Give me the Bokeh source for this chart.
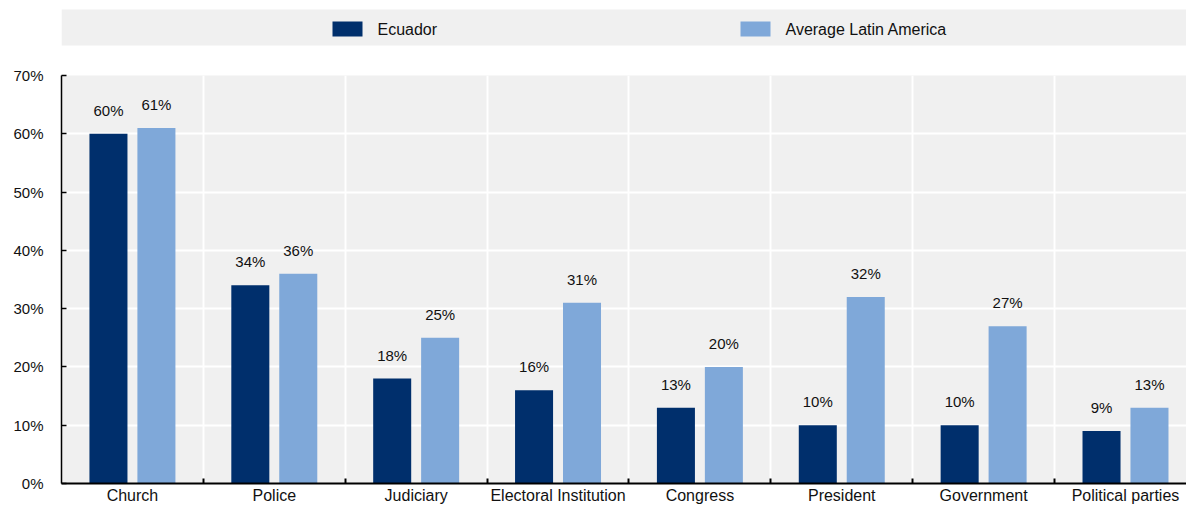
from bokeh.plotting import figure
from bokeh.layouts import column
from bokeh.models import Range1d, FixedTicker, PrintfTickFormatter, ColumnDataSource
from bokeh.core.properties import value
from bokeh.embed import file_html
from bokeh.resources import INLINE

# Trust in institutions (% of respondents)
categories = ["Church", "Police", "Judiciary", "Electoral Institution",
              "Congress", "President", "Government", "Political parties"]
ecuador = [60, 34, 18, 16, 13, 10, 10, 9]
latin_america = [61, 36, 25, 31, 20, 32, 27, 13]
y_ticks = [0, 10, 20, 30, 40, 50, 60, 70]

DARK = "#002F6C"
LIGHT = "#7FA8D9"
BG = "#F0F0F0"
FONT = "'Liberation Sans', Arial, sans-serif"
W = 1186
LEFT = 61

# ---- legend strip (pixel coordinates) ----
leg = figure(width=W, height=55, x_range=Range1d(LEFT, W), y_range=Range1d(55, 0),
             output_backend="svg", toolbar_location=None,
             min_border_left=LEFT, min_border_right=0, min_border_top=0,
             min_border_bottom=0, outline_line_color=None)
leg.axis.visible = False
leg.grid.visible = False
leg.background_fill_color = "white"
leg.quad(left=[LEFT], right=[W], top=[9], bottom=[45], fill_color=BG, line_color=None)
leg.quad(left=[332, 740], right=[362, 770], top=[21, 21], bottom=[36, 36],
         fill_color=[DARK, LIGHT], line_color=None)
leg.text(x=[377, 785], y=[29, 29], text=["Ecuador", "Average Latin America"],
         text_font=value(FONT), text_font_size="16px", text_color="#111111",
         text_baseline="middle", text_align="left")

# ---- main chart ----
n = len(categories)
centers = [i + 0.5 for i in range(n)]
bounds = [float(i) for i in range(1, n)]
off = 0.169
bw = 0.268

src = ColumnDataSource(dict(
    xe=[c - off for c in centers], xl=[c + off for c in centers],
    ecu=ecuador, lat=latin_america,
    ecu_lbl=[f"{v}%" for v in ecuador], lat_lbl=[f"{v}%" for v in latin_america],
))

p = figure(width=W, height=451, x_range=Range1d(0, 7.93), y_range=Range1d(0, 70),
           output_backend="svg", toolbar_location=None,
           min_border_left=LEFT, min_border_right=0, min_border_top=20, min_border_bottom=23,
           outline_line_color=None)
p.background_fill_color = BG

p.vbar(x="xe", top="ecu", width=bw, source=src, fill_color=DARK, line_color=None)
p.vbar(x="xl", top="lat", width=bw, source=src, fill_color=LIGHT, line_color=None)

for xcol, lcol, ycol in (("xe", "ecu_lbl", "ecu"), ("xl", "lat_lbl", "lat")):
    p.text(x=xcol, y=ycol, text=lcol, source=src, text_align="center",
           text_baseline="bottom", y_offset=-15,
           text_font=value(FONT), text_font_size="15px", text_color="#111111")

# x axis: category names at centres, small inward ticks at boundaries
p.xaxis.ticker = FixedTicker(ticks=centers, minor_ticks=bounds)
p.xaxis.major_label_overrides = {c: name for c, name in zip(centers, categories)}
p.xaxis.major_tick_in = 0
p.xaxis.major_tick_out = 0
p.xaxis.minor_tick_in = 5
p.xaxis.minor_tick_out = 0
p.xaxis.minor_tick_line_color = "black"
p.xaxis.minor_tick_line_width = 2
p.xaxis.axis_line_color = "black"
p.xaxis.axis_line_width = 2
p.xaxis.major_label_standoff = 3
p.xaxis.major_label_text_font = FONT
p.xaxis.major_label_text_font_size = "16px"
p.xaxis.major_label_text_color = "#111111"

# y axis
p.yaxis.ticker = FixedTicker(ticks=y_ticks)
p.yaxis.formatter = PrintfTickFormatter(format="%d%%")
p.yaxis.major_tick_in = 5
p.yaxis.major_tick_out = 0
p.yaxis.major_tick_line_color = "black"
p.yaxis.major_tick_line_width = 1.5
p.yaxis.minor_tick_line_color = None
p.yaxis.axis_line_color = "black"
p.yaxis.axis_line_width = 1.5
p.yaxis.major_label_standoff = 18
p.yaxis.major_label_text_font = FONT
p.yaxis.major_label_text_font_size = "15px"
p.yaxis.major_label_text_color = "#111111"

# white grid lines
p.xgrid.ticker = FixedTicker(ticks=bounds)
p.xgrid.grid_line_color = "white"
p.xgrid.grid_line_width = 2
p.ygrid.ticker = FixedTicker(ticks=y_ticks[1:-1])
p.ygrid.grid_line_color = "white"
p.ygrid.grid_line_width = 2

layout = column(leg, p, spacing=0)
open("out.html", "w").write(file_html(layout, INLINE))
